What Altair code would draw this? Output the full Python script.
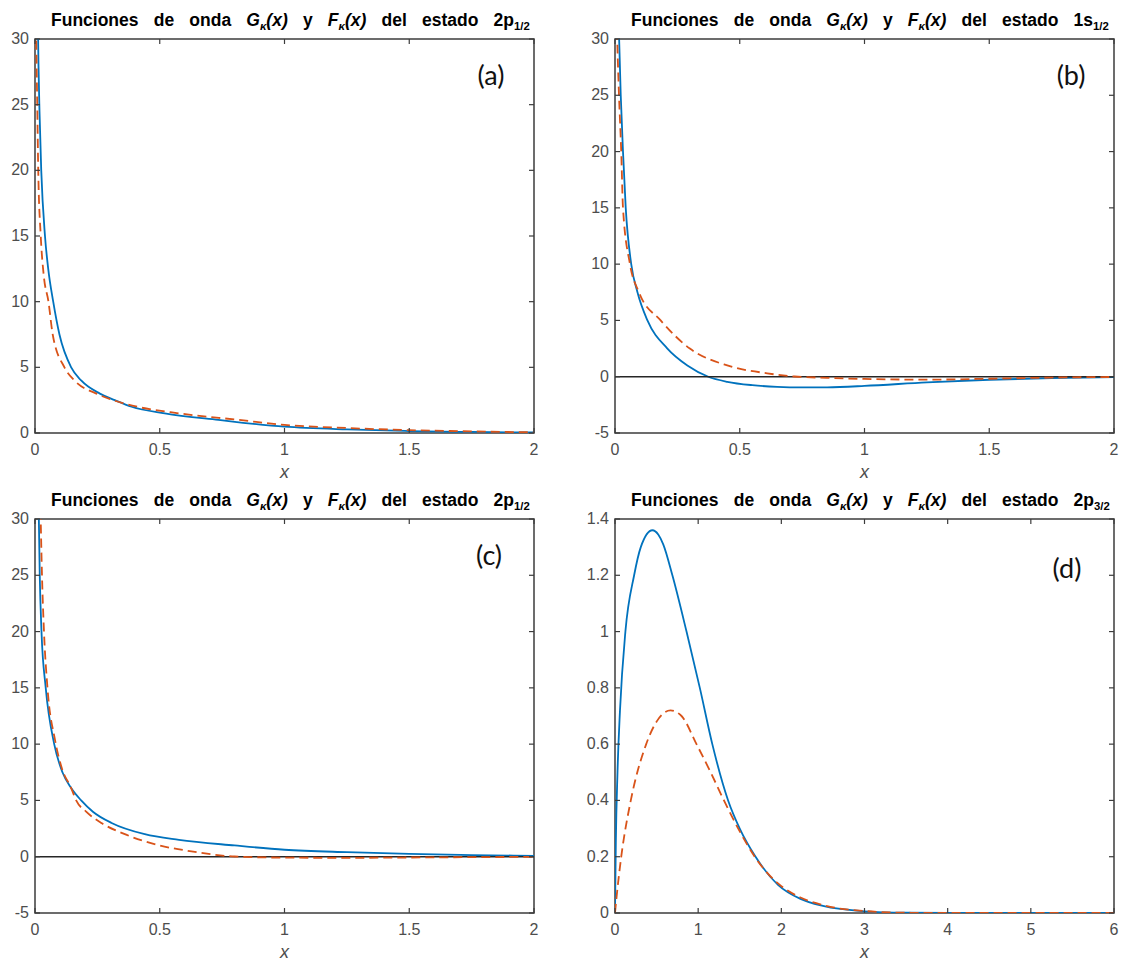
import altair as alt
import pandas as pd

BLUE = "#0072BD"
ORANGE = "#D95319"
AX = "#3c3c3c"
LAB = "#4d4d4d"
W, H = 499, 394

# ---------------- data ----------------
# (a) 2p1/2
xa_G = [0.011, 0.014, 0.018, 0.025, 0.04, 0.053, 0.073, 0.098, 0.145, 0.185, 0.26, 0.32, 0.387, 0.52, 0.735, 1.0, 1.25, 1.5, 1.75, 2.0]
ya_G = [32, 28, 24.5, 20, 15, 12.5, 10, 7.5, 5, 4, 3, 2.5, 2, 1.5, 1, 0.48, 0.27, 0.15, 0.08, 0.04]
xa_F = [0.003, 0.009, 0.013, 0.023, 0.035, 0.054, 0.071, 0.118, 0.158, 0.246, 0.313, 0.41, 0.575, 0.816, 1.0, 1.25, 1.5, 1.75, 2.0]
ya_F = [32, 25, 20, 15, 12, 10, 7.5, 5, 4, 3, 2.5, 2, 1.5, 1, 0.62, 0.38, 0.22, 0.12, 0.05]

# (b) 1s1/2
xb_G = [0.014, 0.023, 0.032, 0.043, 0.065, 0.09, 0.13, 0.21, 0.29, 0.374, 0.45, 0.55, 0.65, 0.75, 0.85, 1.0, 1.25, 1.5, 1.75, 2.0]
yb_G = [32, 25, 20, 15, 10, 7.5, 5, 2.5, 1, 0, -0.45, -0.75, -0.9, -0.95, -0.94, -0.82, -0.5, -0.27, -0.12, -0.03]
xb_F = [0.006, 0.016, 0.025, 0.032, 0.06, 0.096, 0.183, 0.30, 0.45, 0.61, 0.72, 0.85, 1.0, 1.25, 1.5, 1.75, 2.0]
yb_F = [32, 25, 20, 15, 10, 7.5, 5, 2.5, 1, 0.3, 0.02, -0.1, -0.2, -0.26, -0.18, -0.08, -0.02]

# (c) 2p1/2 (second solution)
xc_G = [0.014, 0.019, 0.026, 0.043, 0.077, 0.11, 0.145, 0.185, 0.232, 0.307, 0.44, 0.577, 0.8, 1.0, 1.25, 1.5, 1.75, 2.0]
yc_G = [32, 25, 20, 15, 10, 7.5, 6.1, 5, 4, 3, 2, 1.5, 1, 0.62, 0.4, 0.25, 0.15, 0.08]
xc_F = [0.021, 0.028, 0.036, 0.05, 0.08, 0.107, 0.145, 0.165, 0.205, 0.266, 0.36, 0.5, 0.62, 0.8, 1.0, 1.25, 1.5, 1.75, 2.0]
yc_F = [32, 25, 20, 15, 10.4, 7.9, 6.1, 5, 4, 3, 2, 1, 0.5, 0.02, -0.08, -0.1, -0.07, -0.04, -0.01]

# (d) 2p3/2
xd_G = [0, 0.01, 0.03, 0.06, 0.125, 0.23, 0.31, 0.45, 0.52, 0.58, 0.69, 0.86, 1.02, 1.17, 1.36, 1.5, 1.69, 1.96, 2.23, 2.5, 3.0, 3.5, 4.0, 5.0, 6.0]
yd_G = [0, 0.25, 0.5, 0.72, 1.0, 1.2, 1.3, 1.36, 1.345, 1.31, 1.2, 1.0, 0.8, 0.6, 0.4, 0.3, 0.2, 0.1, 0.05, 0.025, 0.006, 0.001, 0.0, 0.0, 0.0]
xd_F = [0, 0.02, 0.075, 0.19, 0.375, 0.5, 0.667, 0.8, 0.98, 1.15, 1.31, 1.5, 1.68, 1.96, 2.23, 2.5, 3.0, 3.5, 4.0, 5.0, 6.0]
yd_F = [0, 0.06, 0.2, 0.4, 0.6, 0.68, 0.72, 0.7, 0.6, 0.5, 0.4, 0.29, 0.2, 0.105, 0.055, 0.028, 0.007, 0.001, 0.0, 0.0, 0.0]

# tick values
x_ticks_2 = [0, 0.5, 1, 1.5, 2]
x_ticks_6 = [0, 1, 2, 3, 4, 5, 6]
y_ticks_a = [0, 5, 10, 15, 20, 25, 30]
y_ticks_b = [-5, 0, 5, 10, 15, 20, 25, 30]
y_ticks_d = [0, 0.2, 0.4, 0.6, 0.8, 1, 1.2, 1.4]

# ---------------- styling helpers ----------------
FONT = "Liberation Sans"
TS = 17.5
GAP = 15.2
SUB = 0.65
CW = {" ": .278, "(": .333, ")": .333, "/": .278, "1": .556, "2": .556, "3": .556,
      "F": .611, "G": .778, "a": .556, "c": .556, "d": .611, "e": .556, "i": .278,
      "l": .278, "n": .611, "o": .611, "p": .611, "s": .556, "t": .333, "u": .611,
      "x": .556, "y": .556, "κ": .56}
dummy = pd.DataFrame({"a": [0]})


def tw(s, size):
    return sum(CW.get(c, 0.556) for c in s) * size


def title_layers(state, sub, x0=16, yb=-13.5):
    segs = [("Funciones", False, False, True), ("de", False, False, True),
            ("onda", False, False, True), ("G", True, False, False),
            ("κ", True, True, False), ("(x)", True, False, True),
            ("y", False, False, True), ("F", True, False, False),
            ("κ", True, True, False), ("(x)", True, False, True),
            ("del", False, False, True), ("estado", False, False, True),
            (state, False, False, False), (sub, False, True, False)]
    out = []
    x = x0
    for t, it, sb, gap in segs:
        size = TS * SUB if sb else TS
        out.append(
            alt.Chart(dummy).mark_text(
                text=t, font=FONT, fontSize=size, fontWeight="bold",
                fontStyle="italic" if it else "normal", align="left",
                baseline="alphabetic", color="#000000",
            ).encode(x=alt.value(x), y=alt.value(yb + (4 if sb else 0)))
        )
        x += tw(t, size)
        if gap:
            x += GAP
    return out


def fmt(v):
    return "%g" % v


def panel(xg, yg, xf, yf, xdom, ydom, xt, yt, letter, lx, ly, state, sub, zero):
    xs = alt.Scale(domain=xdom, nice=False, zero=False)
    ys = alt.Scale(domain=ydom, nice=False, zero=False)
    layers = []
    layers.append(alt.Chart(pd.DataFrame({"x": xg, "y": yg})).mark_line(
        color=BLUE, strokeWidth=1.8, clip=True, interpolate="monotone"
    ).encode(x=alt.X("x:Q", scale=xs, axis=None), y=alt.Y("y:Q", scale=ys, axis=None)))
    if zero:
        layers.append(
            alt.Chart(pd.DataFrame({"v": [0]})).mark_rule(color="#262626", strokeWidth=1.5)
            .encode(y=alt.Y("v:Q", scale=ys, axis=None), x=alt.value(0), x2=alt.value(W)))
    layers.append(alt.Chart(pd.DataFrame({"x": xf, "y": yf})).mark_line(
        color=ORANGE, strokeWidth=1.8, strokeDash=[9, 5], clip=True, interpolate="monotone"
    ).encode(x=alt.X("x:Q", scale=xs, axis=None), y=alt.Y("y:Q", scale=ys, axis=None)))

    ydf = pd.DataFrame({"v": yt, "lab": [fmt(v) for v in yt]})
    xdf = pd.DataFrame({"v": xt, "lab": [fmt(v) for v in xt]})
    # inward ticks on all four sides
    for a, b in [(0, 5), (W - 5, W)]:
        layers.append(alt.Chart(ydf).mark_rule(color=AX, strokeWidth=1.2).encode(
            y=alt.Y("v:Q", scale=ys, axis=None), x=alt.value(a), x2=alt.value(b)))
    for a, b in [(0, 5), (H - 5, H)]:
        layers.append(alt.Chart(xdf).mark_rule(color=AX, strokeWidth=1.2).encode(
            x=alt.X("v:Q", scale=xs, axis=None), y=alt.value(a), y2=alt.value(b)))
    # tick labels
    layers.append(alt.Chart(ydf).mark_text(
        align="right", baseline="middle", font=FONT, fontSize=16, color=LAB
    ).encode(y=alt.Y("v:Q", scale=ys, axis=None), x=alt.value(-6), text="lab:N"))
    layers.append(alt.Chart(xdf).mark_text(
        align="center", baseline="middle", font=FONT, fontSize=16, color=LAB
    ).encode(x=alt.X("v:Q", scale=xs, axis=None), y=alt.value(H + 17), text="lab:N"))
    # axis title
    layers.append(alt.Chart(dummy).mark_text(
        text="x", align="center", baseline="middle", font=FONT, fontSize=18,
        fontStyle="italic", color=LAB).encode(x=alt.value(W / 2), y=alt.value(H + 40)))
    # panel letter
    layers.append(alt.Chart(dummy).mark_text(
        text=letter, font="Lato", fontSize=27, align="center", baseline="middle",
        color="#111111").encode(x=alt.value(lx), y=alt.value(ly)))
    layers += title_layers(state, sub)
    return alt.layer(*layers).properties(width=W, height=H)


pa = panel(xa_G, ya_G, xa_F, ya_F, [0, 2], [0, 30], x_ticks_2, y_ticks_a,
           "(a)", W - 43, 38, "2p", "1/2", False)
pb = panel(xb_G, yb_G, xb_F, yb_F, [0, 2], [-5, 30], x_ticks_2, y_ticks_b,
           "(b)", W - 43, 38, "1s", "1/2", True)
pc = panel(xc_G, yc_G, xc_F, yc_F, [0, 2], [-5, 30], x_ticks_2, y_ticks_b,
           "(c)", W - 45, 38, "2p", "1/2", True)
pd_ = panel(xd_G, yd_G, xd_F, yd_F, [0, 6], [0, 1.4], x_ticks_6, y_ticks_d,
            "(d)", W - 47, 51, "2p", "3/2", False)

chart = alt.concat(
    pa, pb, pc, pd_, columns=2, spacing={"row": 86, "column": 81}, bounds="flush"
).properties(
    padding={"left": 10, "top": 10, "right": 5, "bottom": 5},
    background="white",
).configure_view(stroke=AX, strokeWidth=1.5)

chart.save("out.html", embed_options={"renderer": "svg", "actions": False})
